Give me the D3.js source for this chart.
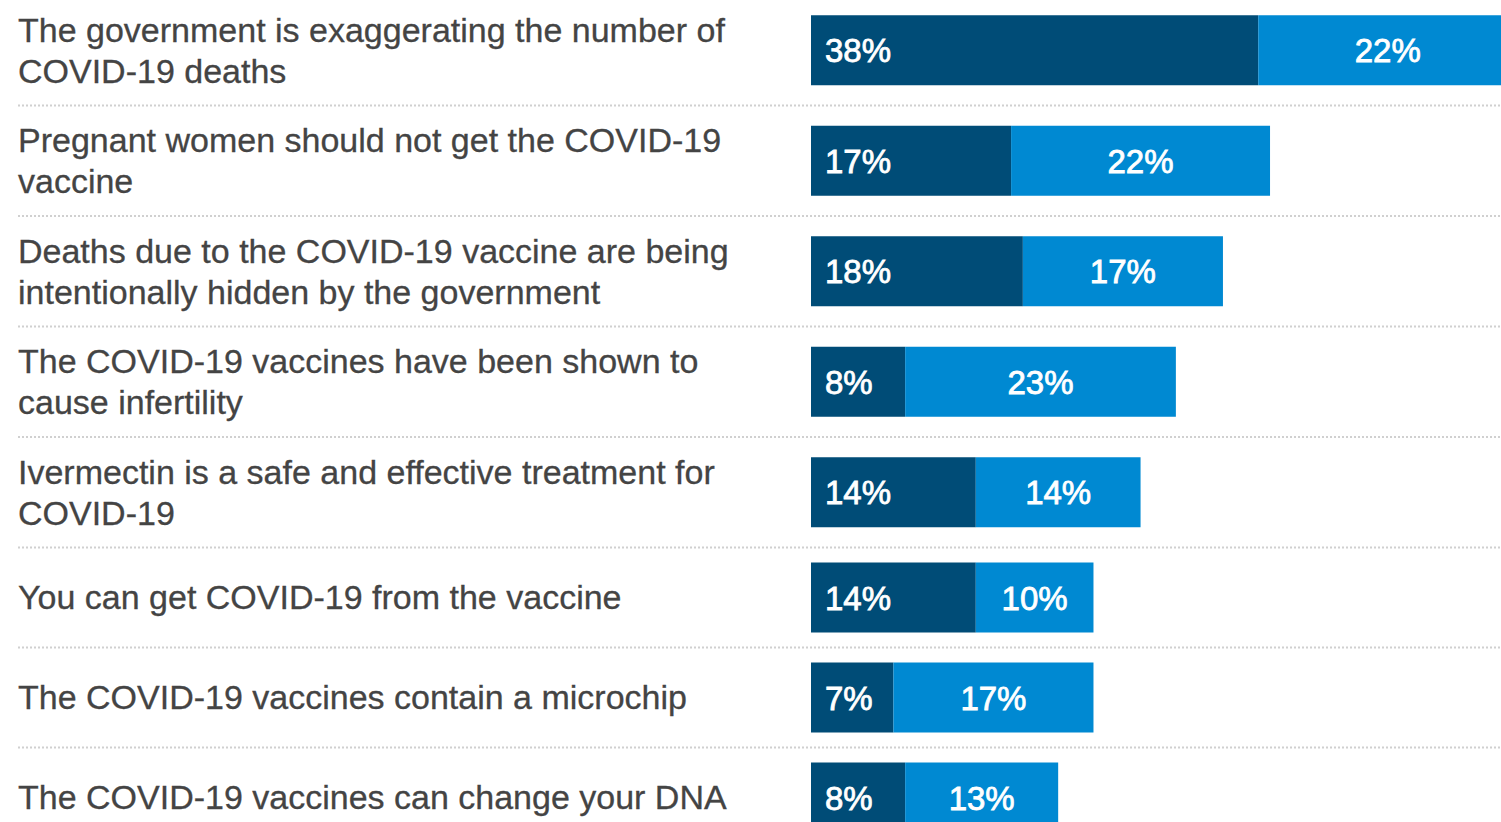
<!DOCTYPE html>
<html>
<head>
<meta charset="utf-8">
<script src="https://cdn.jsdelivr.net/npm/d3@7"></script>
<style>
  html, body { margin: 0; padding: 0; background: #fff; overflow: hidden; }
  svg { display: block; font-family: "Liberation Sans", Arial, Helvetica, sans-serif; }
</style>
</head>
<body>
<svg id="chart" width="1501" height="822"></svg>
<script>
// ---- data ----
const categories = [
  ["The government is exaggerating the number of", "COVID-19 deaths"],
  ["Pregnant women should not get the COVID-19", "vaccine"],
  ["Deaths due to the COVID-19 vaccine are being", "intentionally hidden by the government"],
  ["The COVID-19 vaccines have been shown to", "cause infertility"],
  ["Ivermectin is a safe and effective treatment for", "COVID-19"],
  ["You can get COVID-19 from the vaccine"],
  ["The COVID-19 vaccines contain a microchip"],
  ["The COVID-19 vaccines can change your DNA"]
];
const seriesA = [38, 17, 18, 8, 14, 14, 7, 8];   // dark segment
const seriesB = [22, 22, 17, 23, 14, 10, 17, 13]; // light segment

// ---- layout ----
const W = 1501, H = 822;
const labelX = 18;
const lineH = 41;
const barH = 70;
const fontLabel = 34;
const fontValue = 33;
const colorA = "#004c77";
const colorB = "#0089d2";

const svg = d3.select("#chart");

const x = d3.scaleLinear().domain([0, 100]).range([811, 811 + 1177]);

// row positions
const rows = [];
let rowTop = -5;
categories.forEach((lines, i) => {
  const h = Math.max(100, lines.length * lineH + 28.5);
  rows.push({ i, lines, top: rowTop, h, center: rowTop + h / 2, a: seriesA[i], b: seriesB[i] });
  rowTop += h;
});

const g = svg.append("g");

// separators
g.selectAll("line.sep")
  .data(rows.slice(0, -1))
  .join("line")
  .attr("class", "sep")
  .attr("x1", labelX).attr("x2", W)
  .attr("y1", d => d.top + d.h).attr("y2", d => d.top + d.h)
  .attr("stroke", "#d0d0d0")
  .attr("stroke-width", 2)
  .attr("stroke-dasharray", "2,2");

// labels
const lab = g.selectAll("text.cat")
  .data(rows)
  .join("text")
  .attr("class", "cat")
  .attr("x", labelX)
  .attr("fill", "#444")
  .attr("stroke", "#444")
  .attr("stroke-width", 0.3)
  .attr("font-size", fontLabel);
lab.selectAll("tspan")
  .data(d => d.lines.map((t, k) => ({ t, k, n: d.lines.length, c: d.center })))
  .join("tspan")
  .attr("x", labelX)
  .attr("y", d => d.c + (d.k - (d.n - 1) / 2) * lineH + fontLabel * 0.35)
  .text(d => d.t);

// bars
g.selectAll("rect.a")
  .data(rows)
  .join("rect")
  .attr("class", "a")
  .attr("x", x(0))
  .attr("y", d => d.center - barH / 2)
  .attr("width", d => x(d.a) - x(0))
  .attr("height", barH)
  .attr("fill", colorA);

g.selectAll("rect.b")
  .data(rows)
  .join("rect")
  .attr("class", "b")
  .attr("x", d => x(d.a))
  .attr("y", d => d.center - barH / 2)
  .attr("width", d => x(d.a + d.b) - x(d.a))
  .attr("height", barH)
  .attr("fill", colorB);

// value labels
g.selectAll("text.va")
  .data(rows)
  .join("text")
  .attr("class", "va")
  .attr("x", x(0) + 14)
  .attr("y", d => d.center + fontValue * 0.37)
  .attr("fill", "#fff")
  .attr("stroke", "#fff")
  .attr("stroke-width", 0.8)
  .attr("font-size", fontValue)
  .text(d => d.a + "%");

g.selectAll("text.vb")
  .data(rows)
  .join("text")
  .attr("class", "vb")
  .attr("x", d => (x(d.a) + x(d.a + d.b)) / 2)
  .attr("y", d => d.center + fontValue * 0.37)
  .attr("text-anchor", "middle")
  .attr("fill", "#fff")
  .attr("stroke", "#fff")
  .attr("stroke-width", 0.8)
  .attr("font-size", fontValue)
  .text(d => d.b + "%");
</script>
</body>
</html>
